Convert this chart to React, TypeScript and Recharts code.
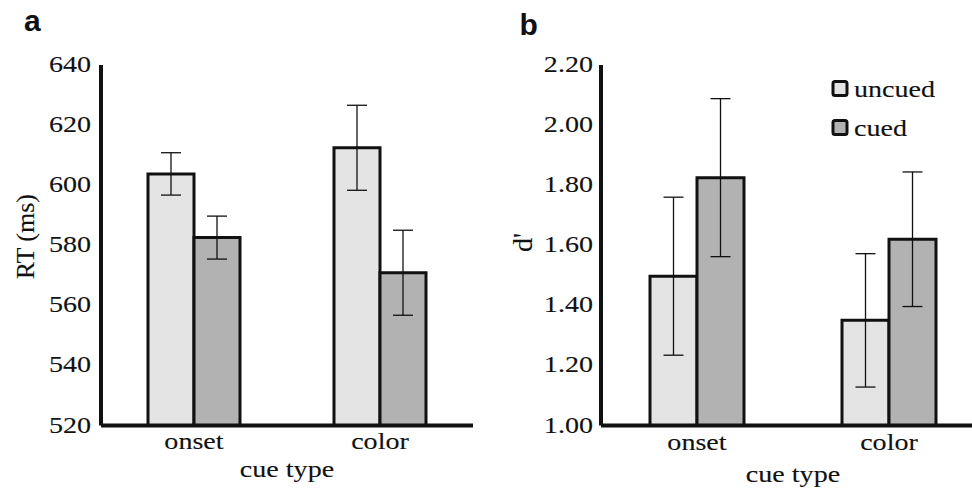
import React from 'react';
import { BarChart, Bar, XAxis, YAxis, ErrorBar, Legend } from 'recharts';

const categories = ['onset', 'color'];
const seriesNames = ['uncued', 'cued'];
const seriesColors = ['#e3e4e3', '#b1b2b1'];

const rtUncued = [603.75, 612.45];
const rtUncuedErr = [7.05, 14.15];
const rtCued = [582.55, 570.85];
const rtCuedErr = [7.15, 14.15];

const dUncued = [1.497, 1.35];
const dUncuedErr = [0.263, 0.222];
const dCued = [1.825, 1.62];
const dCuedErr = [0.263, 0.224];

const rtTicks = [520, 540, 560, 580, 600, 620, 640];
const dTicks = [1.0, 1.2, 1.4, 1.6, 1.8, 2.0, 2.2];

const rtData = categories.map((c, i) => ({
  cat: c,
  uncued: rtUncued[i],
  uncuedErr: rtUncuedErr[i],
  cued: rtCued[i],
  cuedErr: rtCuedErr[i],
}));

const dData = categories.map((c, i) => ({
  cat: c,
  uncued: dUncued[i],
  uncuedErr: dUncuedErr[i],
  cued: dCued[i],
  cuedErr: dCuedErr[i],
}));

const FONT = '"Liberation Serif", "Times New Roman", Times, serif';
const SANS = '"Liberation Sans", Arial, Helvetica, sans-serif';
const SX = 1.17;
const INK = '#111';
const serifStyle: React.CSSProperties = { fontFamily: FONT, stroke: INK, strokeWidth: 0.12 };

const YTick = (props: any) => {
  const { x, y, payload, fixed } = props;
  const v = fixed ? Number(payload.value).toFixed(2) : String(payload.value);
  return (
    <text
      transform={`translate(${x},${y + 7}) scale(${SX},1)`}
      textAnchor="end"
      style={serifStyle}
      fontSize={24}
      fill={INK}
    >
      {v}
    </text>
  );
};

const XTick = (props: any) => {
  const { x, y, payload, dy } = props;
  return (
    <text
      transform={`translate(${x},${y + dy}) scale(${SX},1)`}
      textAnchor="middle"
      style={serifStyle}
      fontSize={24}
      fill={INK}
    >
      {payload.value}
    </text>
  );
};

const XTitle = (props: any) => {
  const { viewBox, text, dy } = props;
  const cx = viewBox.x + viewBox.width / 2;
  return (
    <text
      transform={`translate(${cx},${viewBox.y + dy}) scale(${SX},1)`}
      textAnchor="middle"
      style={serifStyle}
      fontSize={24}
      fill={INK}
    >
      {text}
    </text>
  );
};

const YTitle = (props: any) => {
  const { viewBox, text, bx, cy, size } = props;
  return (
    <text
      transform={`translate(${viewBox.x + bx},${cy}) rotate(-90)`}
      textAnchor="middle"
      style={serifStyle}
      fontSize={size}
      fill={INK}
    >
      {text}
    </text>
  );
};

const LegendContent = (props: any) => {
  const payload = [...(props.payload || [])].sort(
    (a: any, b: any) => seriesNames.indexOf(a.value) - seriesNames.indexOf(b.value)
  );
  return (
    <svg width={140} height={80} style={{ display: 'block' }}>
      {payload.map((p: any, i: number) => (
        <g key={i} transform={`translate(0,${i * 39})`}>
          <rect x={2} y={5.5} width={14} height={14} rx={2} fill={p.color} stroke={INK} strokeWidth={3} />
          <text
            transform={`translate(23,20.5) scale(${SX},1)`}
            style={serifStyle}
            fontSize={24}
            fill={INK}
          >
            {p.value}
          </text>
        </g>
      ))}
    </svg>
  );
};

const PLOT_TOP = 65;

export default function App() {
  return (
    <div
      style={{
        position: 'absolute',
        left: 0,
        top: 0,
        width: 972,
        height: 488,
        overflow: 'hidden',
        background: '#fff',
        fontFamily: FONT,
      }}
    >
      <div style={{ position: 'absolute', left: 0, top: 0 }}>
        <BarChart
          width={480}
          height={488}
          data={rtData}
          margin={{ top: PLOT_TOP, right: 7, bottom: 12.5, left: 0 }}
          barGap={0}
        >
          <XAxis
            dataKey="cat"
            height={50}
            axisLine={{ stroke: INK, strokeWidth: 4 }}
            tickLine={false}
            tickSize={0}
            tickMargin={0}
            tick={(p: any) => <XTick {...p} dy={23.5} />}
            label={(p: any) => <XTitle {...p} text="cue type" dy={51.5} />}
          />
          <YAxis
            width={101}
            domain={[520, 640]}
            ticks={rtTicks}
            interval={0}
            axisLine={{ stroke: INK, strokeWidth: 4 }}
            tickLine={false}
            tickSize={0}
            tickMargin={10}
            tick={(p: any) => <YTick {...p} />}
            label={(p: any) => <YTitle {...p} text="RT (ms)" bx={34} cy={236.7} size={26} />}
          />
          <Bar dataKey="uncued" name={seriesNames[0]} fill={seriesColors[0]} stroke={INK} strokeWidth={3} barSize={46} isAnimationActive={false}>
            <ErrorBar dataKey="uncuedErr" width={10} stroke={INK} strokeWidth={1.3} direction="y" />
          </Bar>
          <Bar dataKey="cued" name={seriesNames[1]} fill={seriesColors[1]} stroke={INK} strokeWidth={3} barSize={46} isAnimationActive={false}>
            <ErrorBar dataKey="cuedErr" width={10} stroke={INK} strokeWidth={1.3} direction="y" />
          </Bar>
        </BarChart>
      </div>

      <div style={{ position: 'absolute', left: 486, top: 0 }}>
        <BarChart
          width={520}
          height={488}
          data={dData}
          margin={{ top: PLOT_TOP, right: 21, bottom: 12.5, left: 0 }}
          barGap={0}
        >
          <XAxis
            dataKey="cat"
            height={50}
            axisLine={{ stroke: INK, strokeWidth: 4 }}
            tickLine={false}
            tickSize={0}
            tickMargin={0}
            tick={(p: any) => <XTick {...p} dy={24.5} />}
            label={(p: any) => <XTitle {...p} text="cue type" dy={56.5} />}
          />
          <YAxis
            width={115}
            domain={[1.0, 2.2]}
            ticks={dTicks}
            interval={0}
            axisLine={{ stroke: INK, strokeWidth: 4 }}
            tickLine={false}
            tickSize={0}
            tickMargin={8}
            tick={(p: any) => <YTick {...p} fixed />}
            label={(p: any) => <YTitle {...p} text="d'" bx={46} cy={242.5} size={28} />}
          />
          <Legend
            layout="vertical"
            align="center"
            verticalAlign="middle"
            wrapperStyle={{ left: 345, top: 76, width: 140, height: 80 }}
            content={(p: any) => <LegendContent {...p} />}
          />
          <Bar dataKey="uncued" name={seriesNames[0]} fill={seriesColors[0]} stroke={INK} strokeWidth={3} barSize={47} isAnimationActive={false}>
            <ErrorBar dataKey="uncuedErr" width={10} stroke={INK} strokeWidth={1.3} direction="y" />
          </Bar>
          <Bar dataKey="cued" name={seriesNames[1]} fill={seriesColors[1]} stroke={INK} strokeWidth={3} barSize={47} isAnimationActive={false}>
            <ErrorBar dataKey="cuedErr" width={10} stroke={INK} strokeWidth={1.3} direction="y" />
          </Bar>
        </BarChart>
      </div>

      <svg
        width={972}
        height={50}
        style={{ position: 'absolute', left: 0, top: 0, pointerEvents: 'none' }}
      >
        <text x={24} y={31} style={{ fontFamily: SANS, fontWeight: 'bold' }} fontSize={30} fill={INK}>
          a
        </text>
        <text x={519.5} y={35} style={{ fontFamily: SANS, fontWeight: 'bold' }} fontSize={30} fill={INK}>
          b
        </text>
      </svg>
    </div>
  );
}
